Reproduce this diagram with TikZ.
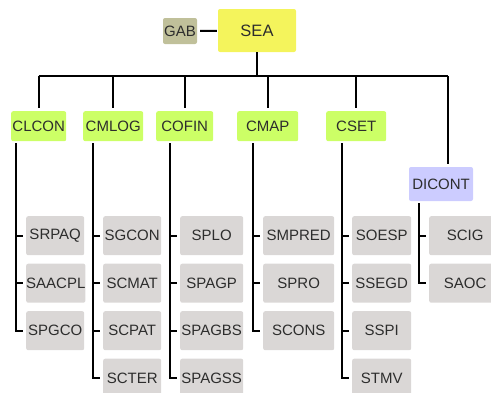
\documentclass[tikz,border=0pt]{standalone}
\usepackage{fontspec}
\setmainfont{Liberation Sans}
\usepackage{xcolor}
\usetikzlibrary{positioning}

\definecolor{amarillo}{RGB}{244,244,92}
\definecolor{caqui}{RGB}{192,192,154}
\definecolor{verde}{RGB}{204,255,102}
\definecolor{lila}{RGB}{204,204,255}
\definecolor{gris}{RGB}{218,215,214}
\definecolor{texto}{RGB}{45,45,45}

\tikzset{
  caja/.style={rounded corners=2pt, inner sep=0pt, text=texto,
    font=\fontsize{15}{15}\selectfont},
  jefe/.style={caja, fill=amarillo, font=\fontsize{16.5}{16.5}\selectfont},
  staff/.style={caja, fill=caqui},
  depto/.style={caja, fill=verde, minimum height=30pt, anchor=north west},
  asesor/.style={caja, fill=lila},
  hoja/.style={caja, fill=gris, minimum height=39pt, anchor=north west},
  rama/.style={line width=2pt, black}
}

\begin{document}
\begin{tikzpicture}[x=1pt, y=-1pt]
  \useasboundingbox (0,0) rectangle (491,392);

  % nivel superior
  \node[jefe, minimum width=78pt, minimum height=43pt] (sea) at (257,30.5) {SEA};
  \node[staff, minimum width=34pt, minimum height=26pt] (gab) at (180,31) {GAB};
  \draw[rama, shorten <=3pt, shorten >=1pt] (gab) -- (sea);

  % departamentos
  \node[depto, minimum width=55pt] (clcon) at (11,111) {CLCON};
  \node[depto, minimum width=60pt] (cmlog) at (83,111) {CMLOG};
  \node[depto, minimum width=57pt] (cofin) at (156,111) {COFIN};
  \node[depto, minimum width=61pt] (cmap) at (237,111) {CMAP};
  \node[depto, minimum width=60pt] (cset) at (326,111) {CSET};
  \node[asesor, minimum width=64pt, minimum height=34pt] (dicont) at (441,184) {DICONT};

  % barra horizontal
  \coordinate (barra) at (0,76);
  \draw[rama] (sea.south) -- (sea.south |- barra);
  \draw[rama] (clcon.north |- barra) -- ([xshift=7pt]dicont.north |- barra);
  \foreach \d in {clcon,cmlog,cofin,cmap,cset}
    \draw[rama, shorten >=3pt] (\d.north |- barra) -- (\d.north);
  \draw[rama, shorten >=3pt] ([xshift=7pt]dicont.north |- barra) -- ([xshift=7pt]dicont.north);

  % secciones
  \foreach \i/\label in {1/SRPAQ,2/SAACPL,3/SPGCO}
    \node[hoja, minimum width=58pt] (clcon\i) at (26,216+47.5*\i-47.5) {\label};
  \foreach \i/\label in {1/SGCON,2/SCMAT,3/SCPAT,4/SCTER}
    \node[hoja, minimum width=58pt] (cmlog\i) at (103,216+47.5*\i-47.5) {\label};
  \foreach \i/\label in {1/SPLO,2/SPAGP,3/SPAGBS,4/SPAGSS}
    \node[hoja, minimum width=63pt] (cofin\i) at (180,216+47.5*\i-47.5) {\label};
  \foreach \i/\label in {1/SMPRED,2/SPRO,3/SCONS}
    \node[hoja, minimum width=71pt] (cmap\i) at (263,216+47.5*\i-47.5) {\label};
  \foreach \i/\label in {1/SOESP,2/SSEGD,3/SSPI,4/STMV}
    \node[hoja, minimum width=59pt] (cset\i) at (352,216+47.5*\i-47.5) {\label};
  \foreach \i/\label in {1/SCIG,2/SAOC}
    \node[hoja, minimum width=72pt] (dicont\i) at (429,216+47.5*\i-47.5) {\label};

  % conectores a las secciones
  \foreach \d/\n in {clcon/3,cmlog/4,cofin/4,cmap/3,cset/4,dicont/2}
    \foreach \i in {1,...,\n}
      \draw[rama, shorten <=2pt] ([xshift=-10pt]\d1.west |- \d.south) |- ([xshift=-3pt]\d\i.west);
\end{tikzpicture}
\end{document}
